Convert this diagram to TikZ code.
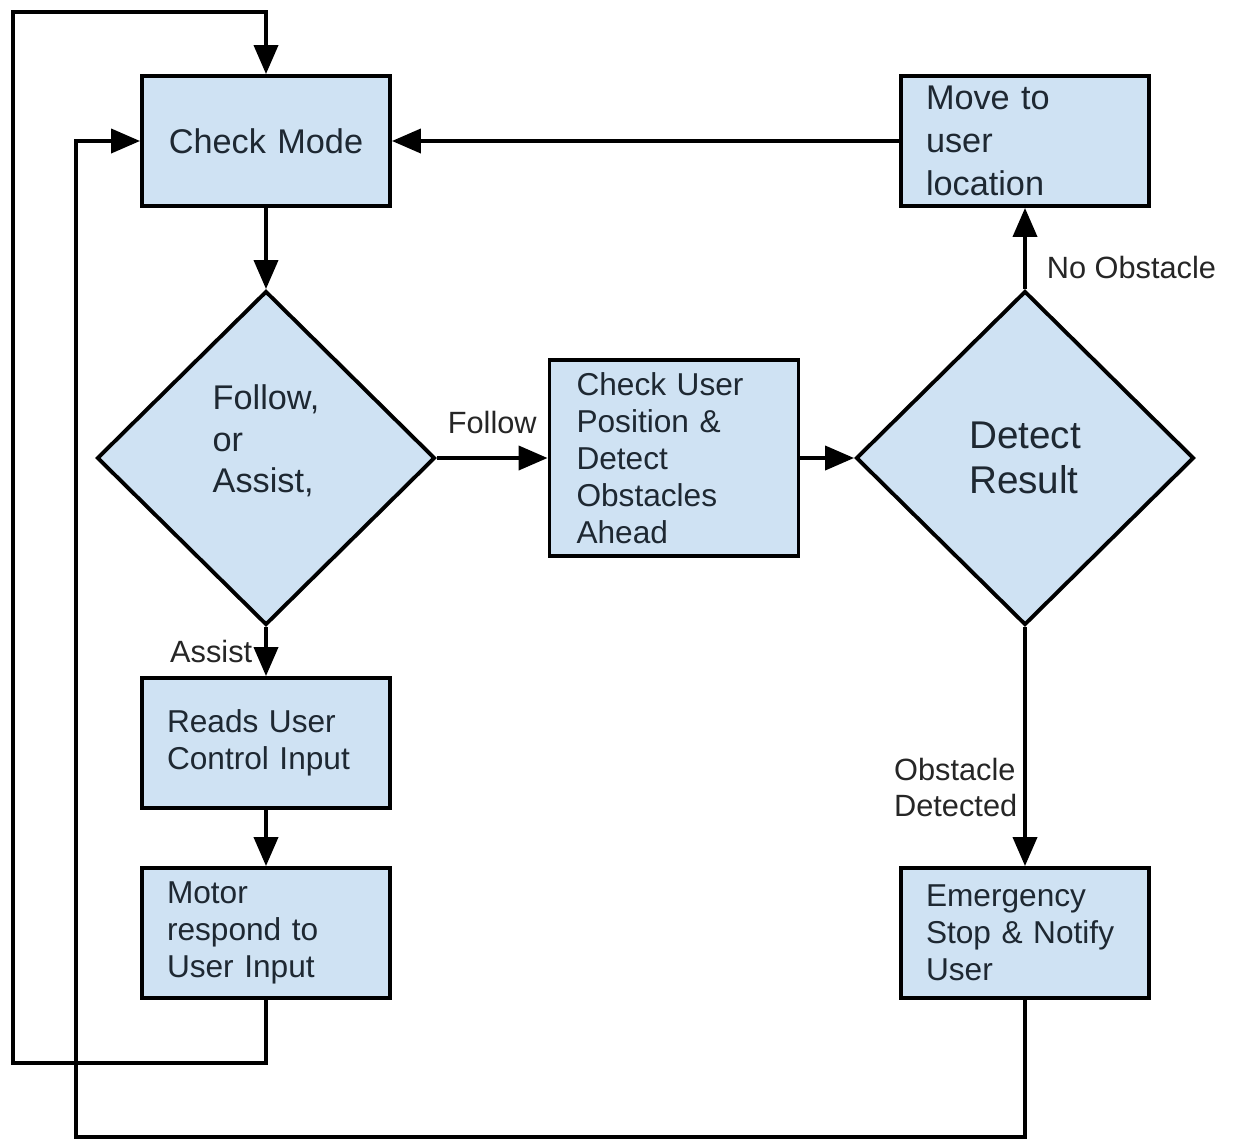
\documentclass[tikz,border=0pt]{standalone}
\usepackage{fontspec}
\setmainfont{Liberation Sans}
\usetikzlibrary{positioning,shapes.geometric,arrows.meta}
\definecolor{boxblue}{HTML}{CFE2F3}
\definecolor{ink}{HTML}{1E2832}

\begin{document}
\begin{tikzpicture}[stepbox/.style={rectangle, draw=black, fill=boxblue, line width=2.2pt, minimum height=2.6cm, text width=3.96cm, inner xsep=0.5cm, align=left, text=ink, font=\fontsize{18}{21}\selectfont},
    decide/.style={diamond, draw=black, fill=boxblue, line width=2.2pt, minimum width=6.76cm, minimum height=6.68cm, inner sep=0pt},
    flow/.style={-{Triangle[length=0.58cm,width=0.48cm]}, line width=2.2pt},
    lab/.style={text=black!85, font=\fontsize{17.5}{20.5}\selectfont, align=left}]
    \useasboundingbox (0,0) rectangle (24.68,-22.8);
    \node[stepbox, align=center, font=\fontsize{19.5}{23}\selectfont](mode) at (5.32,-2.82) {Check Mode};
    \node[stepbox, inner ysep=0pt, font=\fontsize{19.5}{24.5}\selectfont](move) at (20.5,-2.82) {Move to\\user\\location};
    \node[decide, label={[lab, text=ink, font=\fontsize{19.5}{23.5}\selectfont, yshift=0.34cm]center:{Follow,\\or\\Assist,}}](choose) at (5.32,-9.16) {};
    \node[stepbox, minimum height=3.92cm, text width=3.9cm, inner xsep=0.54cm](check) at (13.48,-9.16) {Check User\\Position \&\\Detect\\Obstacles\\Ahead};
    \node[decide, align=left, text=ink, font=\fontsize{22}{26}\selectfont](detect) at (20.5,-9.16) {Detect\\Result};
    \node[stepbox](reads) at (5.32,-14.86) {Reads User\\Control Input};
    \node[stepbox](motor) at (5.32,-18.66) {Motor\\respond to\\User Input};
    \node[stepbox](stop) at (20.5,-18.66) {Emergency\\Stop \& Notify\\User};
    \coordinate (loopl) at (0.26,-21.26);
    \coordinate (loopt) at (5.32,-0.24);
    \coordinate (loopb) at (1.52,-22.74);
    \draw[flow] (mode) -- (choose);
    \draw[flow] (choose) -- node[lab, above=0.32cm]{Follow} (check);
    \draw[flow] (check) -- (detect);
    \draw[flow] (detect) -- node[lab, right=0.28cm, pos=0.27]{No Obstacle} (move);
    \draw[flow] (move) -- (mode);
    \draw[flow] (choose) -- node[lab, left=0.12cm]{Assist} (reads);
    \draw[flow] (reads) -- (motor);
    \draw[flow] (detect) -- node[lab, left=0cm, pos=0.67]{Obstacle\\Detected} (stop);
    \draw[flow] (motor) |- (loopl) |- (loopt) -- (mode);
    \draw[flow] (stop) |- (loopb) |- (mode);
\end{tikzpicture}
\end{document}
